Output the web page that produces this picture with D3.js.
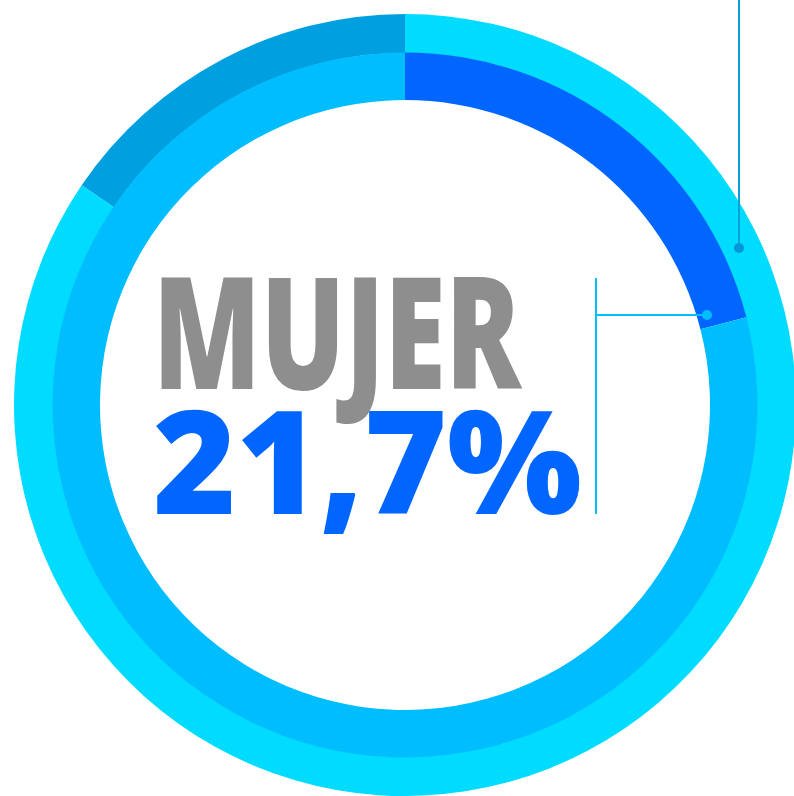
<!DOCTYPE html>
<head>
    <meta charset="utf-8">
    <style type="text/css">
    body { margin: 0; background: #fff; }
    svg { display: block; }
    </style>
</head>
<body>
    <div id="my_dataviz"></div>
    <script src="https://d3js.org/d3.v7.min.js"></script>
    <script type="text/javascript">

    // data (arc sizes as drawn in the picture)
    var innerNames = ["mujer", "resto"];
    var innerValues = [21.0, 79.0];
    var innerColors = ["#0066ff", "#00bdff"];

    var outerNames = ["otro", "resto"];
    var outerValues = [15.5, 84.5];
    var outerColors = ["#00a0e0", "#00dcff"];

    var title = "MUJER";
    var valueLabel = "21,7%";

    var width = 794, height = 796;
    var cx = 405, cy = 405;

    var svg = d3.select("#my_dataviz")
      .append("svg")
        .attr("width", width)
        .attr("height", height);

    var g = svg.append("g")
        .attr("transform", "translate(" + cx + "," + cy + ")");

    var tau = 2 * Math.PI;

    // outer ring: first slice ends at 12 o'clock
    var outerStart = -tau * outerValues[0] / d3.sum(outerValues);
    var outerPie = d3.pie().sort(null)
        .startAngle(outerStart)
        .endAngle(outerStart + tau);
    var outerArc = d3.arc().innerRadius(352).outerRadius(391);

    g.selectAll(".outer")
      .data(outerPie(outerValues))
      .enter()
      .append("path")
        .attr("class", "outer")
        .attr("d", outerArc)
        .style("fill", function (d, i) { return outerColors[i]; });

    // inner ring: starts at 12 o'clock
    var innerPie = d3.pie().sort(null);
    var innerArc = d3.arc().innerRadius(305).outerRadius(352.5);

    g.selectAll(".inner")
      .data(innerPie(innerValues))
      .enter()
      .append("path")
        .attr("class", "inner")
        .attr("d", innerArc)
        .style("fill", function (d, i) { return innerColors[i]; });

    // leader lines
    svg.append("line")
        .attr("x1", 739).attr("y1", 0)
        .attr("x2", 739).attr("y2", 248)
        .style("stroke", "#0aa0dc")
        .style("stroke-width", 2);
    svg.append("circle")
        .attr("cx", 739).attr("cy", 248).attr("r", 5)
        .style("fill", "#0096dc");

    svg.append("line")
        .attr("x1", 596).attr("y1", 278)
        .attr("x2", 596).attr("y2", 514)
        .style("stroke", "#00beff")
        .style("stroke-width", 2);
    svg.append("line")
        .attr("x1", 596).attr("y1", 315)
        .attr("x2", 707).attr("y2", 315)
        .style("stroke", "#00beff")
        .style("stroke-width", 2);
    svg.append("circle")
        .attr("cx", 707).attr("cy", 315).attr("r", 5)
        .style("fill", "#00beff");

    // texts
    svg.append("text")
        .attr("x", 153)
        .attr("y", 389)
        .attr("textLength", 368)
        .attr("lengthAdjust", "spacingAndGlyphs")
        .style("font-family", "'Open Sans', 'Liberation Sans', sans-serif")
        .style("font-weight", 800)
        .style("font-size", "156px")
        .style("fill", "#8e8e8e")
        .text(title);

    svg.append("text")
        .attr("x", 153)
        .attr("y", 514)
        .attr("textLength", 429)
        .attr("lengthAdjust", "spacingAndGlyphs")
        .style("font-family", "'Open Sans', 'Liberation Sans', sans-serif")
        .style("font-weight", 800)
        .style("font-size", "143px")
        .style("fill", "#0066ff")
        .text(valueLabel);

    </script>
</body>
